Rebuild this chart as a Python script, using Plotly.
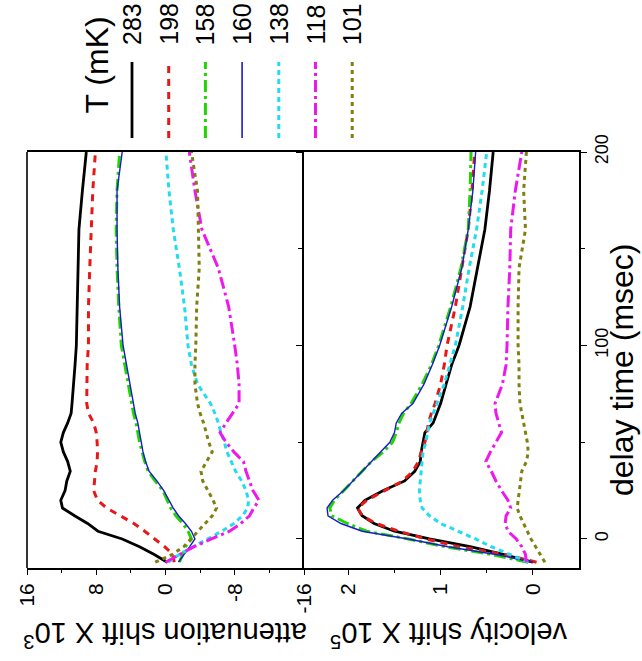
import plotly.graph_objects as go

# ---------------- data ----------------
delay = [-12, -8, -4, 0, 4, 8, 12, 16, 20, 25, 30, 35, 40, 45, 50, 55, 60, 65, 70,
         80, 90, 100, 120, 140, 160, 180, 200]

temps = ["283", "198", "158", "160", "138", "118", "101"]

atten_283 = [-0.2, 1.3, 3.0, 5.0, 7.8, 9.0, 10.5, 11.9, 12.1, 11.6, 11.4, 11.0, 11.3, 11.8, 12.1,
             11.8, 11.3, 10.9, 10.8, 10.6, 10.45, 10.3, 10.2, 10.1, 10.0, 9.6, 9.15]
atten_198 = [-1.0, -0.85, 0.1, 1.2, 2.4, 3.65, 5.3, 6.8, 7.85, 8.3, 8.2, 8.1, 7.9, 7.85, 7.9,
             8.0, 8.3, 8.9, 9.1, 9.1, 9.05, 8.9, 8.9, 8.75, 8.6, 8.4, 8.1]
atten_158 = [-1.6, -2.0, -2.3, -3.0, -2.6, -2.0, -1.2, -0.6, -0.2, 0.3, 1.2, 2.0, 2.4, 2.7, 3.0,
             3.2, 3.4, 3.7, 3.9, 4.3, 4.7, 5.1, 5.4, 5.6, 5.7, 5.6, 5.3]
atten_160 = [-1.5, -2.2, -2.8, -3.4, -3.0, -2.3, -1.5, -0.9, -0.4, 0.2, 1.0, 1.9, 2.3, 2.6, 2.8,
             3.0, 3.2, 3.5, 3.7, 4.1, 4.5, 4.9, 5.3, 5.5, 5.6, 5.6, 5.0]
atten_138 = [-0.3, -1.6, -3.2, -4.8, -6.5, -7.9, -8.9, -9.5, -9.6, -9.3, -8.8, -8.1, -7.6, -7.1,
             -6.8, -6.4, -6.1, -5.7, -5.2, -3.7, -3.0, -2.6, -2.2, -1.6, -0.9, -0.4, -0.05]
atten_118 = [0.0, -1.6, -3.3, -5.3, -7.4, -8.7, -9.7, -10.2, -10.8, -10.1, -9.7, -9.3, -9.0, -7.9,
             -7.0, -6.3, -7.0, -7.8, -8.5, -8.5, -8.3, -8.0, -7.3, -6.1, -4.2, -3.4, -2.75]
atten_101 = [1.2, -0.8, -2.1, -2.9, -3.7, -4.6, -5.4, -5.9, -5.5, -4.9, -4.3, -4.1, -4.8, -5.4,
             -5.0, -4.7, -4.4, -4.0, -3.7, -3.4, -3.4, -3.5, -3.6, -3.9, -3.8, -3.7, -3.0]

vel_283 = [0.0, 0.32, 0.68, 1.12, 1.5, 1.72, 1.85, 1.90, 1.82, 1.62, 1.39, 1.28, 1.22, 1.21, 1.19,
           1.17, 1.08, 1.04, 1.0, 0.94, 0.88, 0.80, 0.68, 0.60, 0.52, 0.47, 0.43]
vel_198 = [-0.04, 0.3, 0.8, 1.16, 1.45, 1.70, 1.85, 1.90, 1.80, 1.60, 1.41, 1.30, 1.24, 1.21, 1.17,
           1.15, 1.13, 1.10, 1.06, 1.0, 0.96, 0.93, 0.84, 0.77, 0.70, 0.66, 0.63]
vel_158 = [0.05, 0.45, 0.95, 1.35, 1.80, 2.01, 2.18, 2.20, 2.15, 2.05, 1.95, 1.86, 1.75, 1.62, 1.52,
           1.48, 1.45, 1.40, 1.32, 1.2, 1.10, 1.02, 0.89, 0.78, 0.70, 0.68, 0.67]
vel_160 = [0.0, 0.4, 0.92, 1.35, 1.85, 2.08, 2.22, 2.23, 2.17, 2.05, 1.95, 1.85, 1.76, 1.66, 1.55,
           1.50, 1.48, 1.42, 1.30, 1.18, 1.09, 1.01, 0.88, 0.77, 0.70, 0.65, 0.62]
vel_138 = [0.05, 0.25, 0.45, 0.62, 0.82, 1.0, 1.12, 1.20, 1.22, 1.23, 1.22, 1.21, 1.20, 1.19, 1.16,
           1.14, 1.12, 1.08, 1.04, 0.96, 0.90, 0.84, 0.76, 0.69, 0.61, 0.55, 0.50]
vel_118 = [0.07, 0.08, 0.12, 0.18, 0.27, 0.30, 0.29, 0.24, 0.27, 0.34, 0.40, 0.45, 0.51, 0.46, 0.40,
           0.34, 0.37, 0.40, 0.41, 0.33, 0.29, 0.28, 0.27, 0.25, 0.24, 0.19, 0.12]
vel_101 = [-0.13, -0.08, -0.03, 0.02, 0.06, 0.10, 0.14, 0.17, 0.16, 0.15, 0.14, 0.12, 0.07, 0.05, 0.06,
           0.08, 0.10, 0.12, 0.14, 0.15, 0.15, 0.16, 0.16, 0.15, 0.08, 0.10, 0.07]

atten_ticks = [16, 8, 0, -8, -16]
atten_ticktext = ["16", "8", "0", "-8", "-16"]
vel_ticks = [2, 1, 0]
delay_ticks = [0, 100, 200]

# ---------------- styles ----------------
atten_series = [atten_283, atten_198, atten_158, atten_160, atten_138, atten_118, atten_101]
vel_series = [vel_283, vel_198, vel_158, vel_160, vel_138, vel_118, vel_101]
colors = ["#000000", "#e81818", "#22d400", "#1a1ad0", "#22dcef", "#ee18ee", "#808010"]
widths = [2.8, 3.0, 3.0, 1.4, 3.0, 3.0, 3.0]
dashes = ["solid", "7px,6px", "12px,4px,3px,4px", "solid", "5px,4px", "12px,4px,3px,4px", "4px,4px"]

FONT = "Liberation Sans, Arial, sans-serif"

fig = go.Figure()
for i, t in enumerate(temps):
    line = dict(color=colors[i], width=widths[i], dash=dashes[i])
    fig.add_trace(go.Scatter(x=atten_series[i], y=delay, mode="lines", line=line,
                             xaxis="x", yaxis="y", showlegend=False, name=t))
    fig.add_trace(go.Scatter(x=vel_series[i], y=delay, mode="lines", line=line,
                             xaxis="x2", yaxis="y", showlegend=False, name=t))

# plot area geometry (pixels)
W, H = 642, 661
L, R, T, B = 27, 579, 152, 568
split = (304 - L) / (R - L)

def px(xp):
    return (xp - L) / (R - L)

def py(yp):
    return (B - yp) / (B - T)

axis_common = dict(showline=True, linecolor="black", linewidth=1.6, ticks="outside",
                   tickcolor="black", tickwidth=1.3, ticklen=5, showgrid=False, zeroline=False,
                   tickfont=dict(family=FONT, size=21, color="black"), tickangle=-90)

fig.update_layout(
    width=W, height=H,
    margin=dict(l=L, r=W - R, t=T, b=H - B),
    paper_bgcolor="white", plot_bgcolor="white",
    xaxis=dict(domain=[0, split], range=[16, -16], tickvals=atten_ticks, ticktext=atten_ticktext,
               anchor="y", mirror=True,
               minor=dict(tickvals=[12, 4, -4, -12], ticklen=3, ticks="outside", tickcolor="black"),
               **axis_common),
    xaxis2=dict(domain=[split, 1], range=[2.48, -0.5], tickvals=vel_ticks, anchor="y",
                mirror=True, minor=dict(tickvals=[1.5, 0.5], ticklen=3, ticks="outside",
                                        tickcolor="black"), **axis_common),
    yaxis=dict(domain=[0, 1], range=[-15, 200], tickvals=delay_ticks, anchor="x2", side="right",
               mirror="ticks", minor=dict(tickvals=[50, 150], ticklen=4, ticks="outside",
                                         tickcolor="black"),
               **{**axis_common, "ticklen": 6,
                  "tickfont": dict(family=FONT, size=18, color="black")}),
)

shapes = [dict(type="line", xref="paper", yref="paper", x0=0, x1=0, y0=0, y1=1,
               line=dict(color="black", width=1.6))]
annotations = []

# legend (drawn manually, rotated)
for i, t in enumerate(temps):
    xl = px(132 + i * 36.7)
    shapes.append(dict(type="line", xref="paper", yref="paper", x0=xl, x1=xl,
                       y0=py(138), y1=py(62),
                       line=dict(color=colors[i], width=widths[i] if widths[i] > 2 else 1.6,
                                 dash=dashes[i])))
    annotations.append(dict(text=t, xref="paper", yref="paper", x=xl, y=py(47),
                            xanchor="center", yanchor="bottom", textangle=-90, showarrow=False,
                            font=dict(family=FONT, size=25, color="black")))

annotations.append(dict(text="T (mK)", xref="paper", yref="paper", x=px(96), y=py(116),
                        xanchor="center", yanchor="bottom", textangle=-90, showarrow=False,
                        font=dict(family=FONT, size=32, color="black")))

annotations.append(dict(text="delay time (msec)", xref="paper", yref="paper", x=px(622), y=py(370),
                        xanchor="center", yanchor="middle", textangle=-90, showarrow=False,
                        font=dict(family=FONT, size=32, color="black")))
annotations.append(dict(text="attenuation shift X 10<sup>3</sup>", xref="paper", yref="paper",
                        x=px(165), y=py(635), xanchor="center", yanchor="middle", textangle=180,
                        showarrow=False, font=dict(family=FONT, size=29, color="black")))
annotations.append(dict(text="velocity shift X 10<sup>5</sup>", xref="paper", yref="paper",
                        x=px(449), y=py(635), xanchor="center", yanchor="middle", textangle=180,
                        showarrow=False, font=dict(family=FONT, size=29, color="black")))

fig.update_layout(shapes=shapes, annotations=annotations)
fig.write_html("out.html")
